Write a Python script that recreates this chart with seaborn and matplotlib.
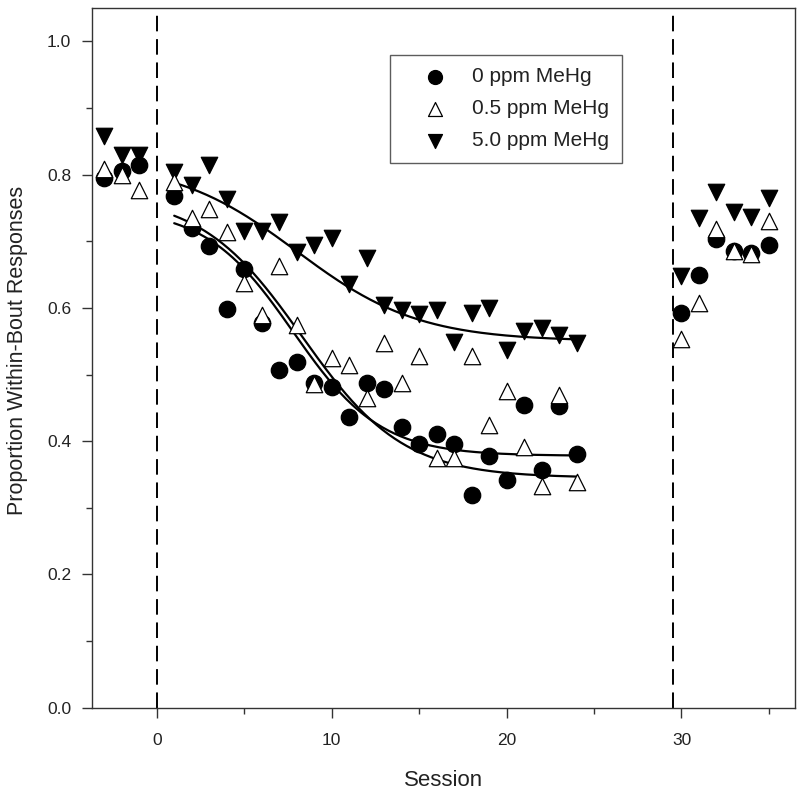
"""
plot.py

Proportion of within-bout responses across sessions for three MeHg groups.
"""

import numpy as np
import pandas as pd
import matplotlib
matplotlib.use("Agg")
import matplotlib.pyplot as plt
import seaborn as sns
from matplotlib.ticker import MultipleLocator, FormatStrFormatter

############################################################
# Data
############################################################

groups = ["0 ppm MeHg", "0.5 ppm MeHg", "5.0 ppm MeHg"]

sessions = [-3, -2, -1] + list(range(1, 25)) + list(range(30, 36))

prop_0ppm = [
    0.795, 0.806, 0.815,
    0.768, 0.720, 0.693, 0.599, 0.658, 0.578, 0.507, 0.519, 0.487, 0.482,
    0.437, 0.488, 0.478, 0.421, 0.395, 0.411, 0.396, 0.319, 0.377, 0.341,
    0.455, 0.356, 0.453, 0.380,
    0.592, 0.649, 0.704, 0.685, 0.682, 0.694,
]

prop_05ppm = [
    0.808, 0.800, 0.777,
    0.789, 0.735, 0.748, 0.714, 0.638, 0.590, 0.663, 0.575, 0.486, 0.525,
    0.515, 0.465, 0.548, 0.488, 0.528, 0.375, 0.375, 0.528, 0.424, 0.475,
    0.391, 0.332, 0.469, 0.339,
    0.554, 0.607, 0.719, 0.686, 0.681, 0.730,
]

prop_5ppm = [
    0.858, 0.830, 0.830,
    0.804, 0.784, 0.814, 0.764, 0.715, 0.715, 0.729, 0.684, 0.694, 0.705,
    0.636, 0.675, 0.604, 0.597, 0.591, 0.597, 0.549, 0.593, 0.600, 0.537,
    0.565, 0.570, 0.560, 0.548,
    0.648, 0.735, 0.774, 0.744, 0.736, 0.765,
]

# sigmoid fit parameters (top, bottom, x0, slope)
fit_top = [0.750, 0.770, 0.820]
fit_bottom = [0.378, 0.345, 0.550]
fit_x0 = [7.8, 8.3, 8.0]
fit_slope = [2.5, 2.9, 3.5]
fit_range = (1, 24)

# phase boundaries
phase_lines = [0, 29.5]

############################################################
# Tables
############################################################

points = pd.DataFrame({
    "Session": sessions * 3,
    "Proportion": prop_0ppm + prop_05ppm + prop_5ppm,
    "Group": np.repeat(groups, len(sessions)),
})

xfit = np.linspace(fit_range[0], fit_range[1], 200)
curves = pd.concat([
    pd.DataFrame({
        "Session": xfit,
        "Proportion": b + (t - b) / (1 + np.exp((xfit - x0) / s)),
        "Group": g,
    })
    for g, t, b, x0, s in zip(groups, fit_top, fit_bottom, fit_x0, fit_slope)
])

############################################################
# Plot
############################################################

sns.set_style("ticks")
plt.rcParams["font.family"] = ["Liberation Sans", "DejaVu Sans"]

fig = plt.figure(figsize=(8, 7.97), dpi=100)
ax = fig.add_axes([0.115, 0.112, 0.879, 0.878])

for x in phase_lines:
    ax.axvline(x, color="black", lw=1.4, ls=(0, (8, 4)), zorder=1)

sns.lineplot(
    data=curves, x="Session", y="Proportion", units="Group",
    estimator=None, color="black", lw=1.6, ax=ax, zorder=2,
)

styles = {
    "0 ppm MeHg": dict(marker="o", color="black", s=140, zorder=3),
    "5.0 ppm MeHg": dict(marker="v", color="black", s=140, zorder=4),
    "0.5 ppm MeHg": dict(marker="^", color="white", s=140, zorder=5),
}

for g in ["0 ppm MeHg", "5.0 ppm MeHg", "0.5 ppm MeHg"]:
    sns.scatterplot(
        data=points[points["Group"] == g], x="Session", y="Proportion",
        edgecolor="black", linewidth=0.9, label=g, ax=ax, **styles[g],
    )

ax.set_xlim(-3.7, 36.5)
ax.set_ylim(0, 1.05)

ax.xaxis.set_major_locator(MultipleLocator(10))
ax.xaxis.set_minor_locator(MultipleLocator(5))
ax.yaxis.set_major_locator(MultipleLocator(0.2))
ax.yaxis.set_minor_locator(MultipleLocator(0.1))
ax.yaxis.set_major_formatter(FormatStrFormatter("%.1f"))

ax.tick_params(which="major", direction="out", length=7, width=1,
               labelsize=12.5, color="#333333", labelcolor="#222222")
ax.tick_params(axis="x", which="major", pad=11)
ax.tick_params(axis="y", which="major", pad=8)
ax.tick_params(which="minor", direction="out", length=4, width=1, color="#333333")
for sp in ax.spines.values():
    sp.set_color("#333333")
    sp.set_linewidth(1.0)
    sp.set_visible(True)

ax.set_xlabel("Session", fontsize=16, color="#222222")
ax.set_ylabel("Proportion Within-Bout Responses", fontsize=15.5, color="#222222")
ax.xaxis.set_label_coords(0.5, -0.089)
ax.yaxis.set_label_coords(-0.091, 0.511)

############################################################
# Legend
############################################################

handles, labels = ax.get_legend_handles_labels()
order = [labels.index(g) for g in groups]
leg = ax.legend(
    [handles[i] for i in order], [labels[i] for i in order],
    loc="upper left", bbox_to_anchor=(0.424, 0.933), borderaxespad=0,
    prop={"size": 15}, frameon=True, fancybox=False, markerscale=0.85,
    borderpad=0.6, labelspacing=0.62, handletextpad=0.25, handlelength=3.1,
)
leg.get_frame().set_edgecolor("#333333")
leg.get_frame().set_linewidth(1.0)
for t in leg.get_texts():
    t.set_color("#222222")

fig.savefig("out.png", dpi=100)
